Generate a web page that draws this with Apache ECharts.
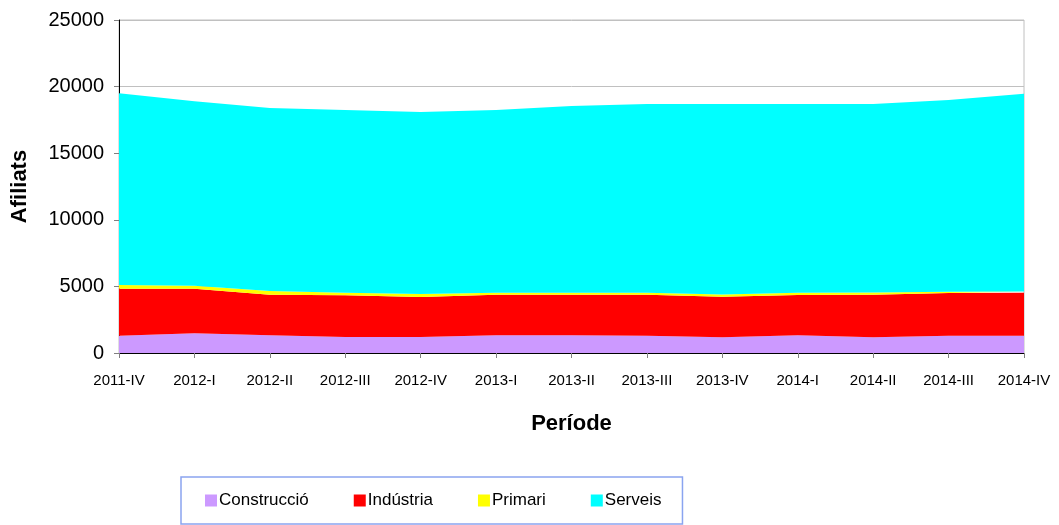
<!DOCTYPE html>
<html>
<head>
<meta charset="utf-8">
<script src="https://cdn.jsdelivr.net/npm/echarts@6/dist/echarts.min.js"></script>
<style>
  html, body { margin: 0; padding: 0; background: #fff; }
  #chart { width: 1059px; height: 525px; }
</style>
</head>
<body>
<div id="chart"></div>
<script>
// periods on the x axis
const periods = ['2011-IV', '2012-I', '2012-II', '2012-III', '2012-IV', '2013-I', '2013-II',
  '2013-III', '2013-IV', '2014-I', '2014-II', '2014-III', '2014-IV']

// affiliates per sector (stacked)
const construccio = [1300, 1480, 1330, 1200, 1200, 1330, 1330, 1300, 1180, 1330, 1180, 1300, 1300]
const industria = [3530, 3350, 3050, 3130, 3000, 3050, 3050, 3080, 3050, 3020, 3200, 3200, 3230]
const primari = [270, 220, 270, 200, 230, 150, 150, 150, 170, 180, 170, 100, 80]
const serveis = [14400, 13850, 13750, 13720, 13670, 13720, 14020, 14170, 14300, 14170, 14150, 14400, 14850]

const font = '"Liberation Sans", Arial, sans-serif'

const sectors = [
  { name: 'Construcció', data: construccio, color: '#cc99ff' },
  { name: 'Indústria', data: industria, color: '#ff0000' },
  { name: 'Primari', data: primari, color: '#ffff00' },
  { name: 'Serveis', data: serveis, color: '#00ffff' }
]

const chart = echarts.init(document.getElementById('chart'))

chart.setOption({
  animation: false,
  textStyle: { fontFamily: font, color: '#000' },
  grid: { left: 119, right: 35, top: 20, bottom: 172, show: true, borderColor: '#c0c0c0', borderWidth: 1 },
  legend: {
    left: 181,
    top: 477,
    padding: [15, 21, 15, 24],
    borderColor: '#8aa4f0',
    borderWidth: 1.5,
    itemGap: 45,
    itemWidth: 12,
    itemHeight: 12,
    icon: 'rect',
    textStyle: { fontSize: 17, fontFamily: font, color: '#000', padding: [0, 0, 0, -3] },
    data: sectors.map(s => s.name)
  },
  xAxis: {
    type: 'category',
    data: periods,
    boundaryGap: false,
    name: 'Període',
    nameLocation: 'middle',
    nameGap: 60,
    nameTextStyle: { fontSize: 22, fontWeight: 'bold', fontFamily: font, color: '#000' },
    axisLine: { lineStyle: { color: '#000', width: 1 } },
    axisTick: { alignWithLabel: true, length: 5, lineStyle: { color: '#808080' } },
    axisLabel: { fontSize: 15, color: '#000', margin: 20, interval: 0 },
    splitLine: { show: false }
  },
  yAxis: {
    type: 'value',
    min: 0,
    max: 25000,
    interval: 5000,
    name: 'Afiliats',
    nameLocation: 'middle',
    nameGap: 88,
    nameTextStyle: { fontSize: 22, fontWeight: 'bold', fontFamily: font, color: '#000' },
    axisLine: { show: true, lineStyle: { color: '#000', width: 1 } },
    axisTick: { show: true, length: 5, lineStyle: { color: '#808080' } },
    axisLabel: { fontSize: 20, color: '#000', margin: 15, formatter: v => String(v) },
    splitLine: { show: true, lineStyle: { color: '#c0c0c0', width: 1 } }
  },
  series: sectors.map(s => ({
    name: s.name,
    type: 'line',
    stack: 'total',
    data: s.data,
    showSymbol: false,
    lineStyle: { width: 0 },
    areaStyle: { color: s.color, opacity: 1 },
    itemStyle: { color: s.color }
  }))
})
</script>
</body>
</html>
